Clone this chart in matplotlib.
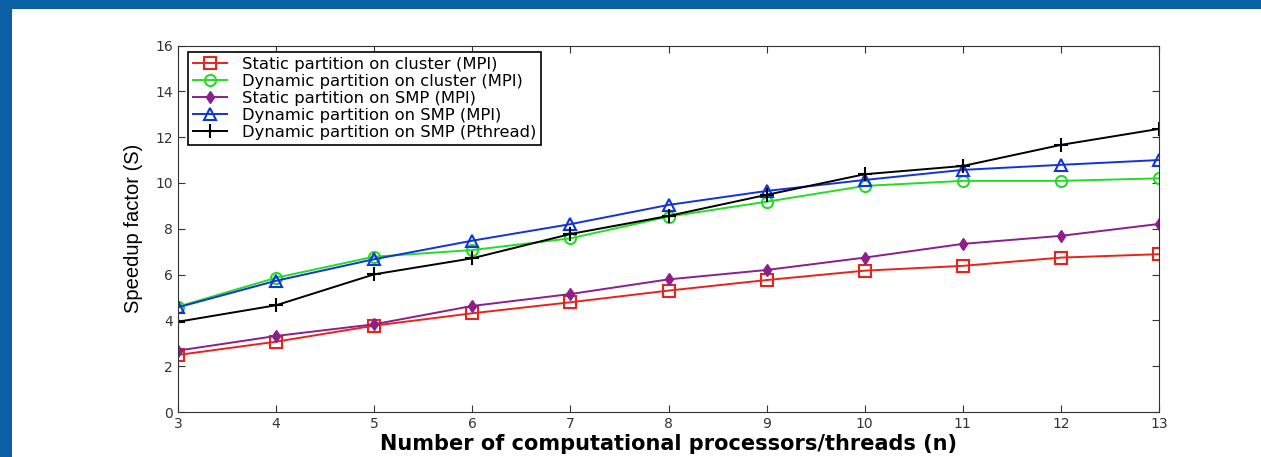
import matplotlib
matplotlib.use("Agg")
import matplotlib.pyplot as plt
from matplotlib.patches import Rectangle

plt.rcParams['font.family'] = ['Liberation Sans', 'DejaVu Sans']

procs = [3, 4, 5, 6, 7, 8, 9, 10, 11, 12, 13]
static_cluster = [2.49, 3.07, 3.77, 4.31, 4.79, 5.30, 5.76, 6.17, 6.38, 6.74, 6.89]
dynamic_cluster = [4.60, 5.86, 6.78, 7.07, 7.58, 8.53, 9.18, 9.87, 10.09, 10.09, 10.20]
static_smp = [2.68, 3.32, 3.83, 4.63, 5.15, 5.79, 6.20, 6.74, 7.34, 7.69, 8.21]
dynamic_smp = [4.57, 5.73, 6.67, 7.48, 8.20, 9.04, 9.65, 10.13, 10.57, 10.79, 11.00]
dynamic_pthread = [3.94, 4.66, 6.01, 6.71, 7.77, 8.56, 9.48, 10.38, 10.74, 11.66, 12.36]

labels = ["Static partition on cluster (MPI)",
          "Dynamic partition on cluster (MPI)",
          "Static partition on SMP (MPI)",
          "Dynamic partition on SMP (MPI)",
          "Dynamic partition on SMP (Pthread)"]

W, H = 1261, 457
fig = plt.figure(figsize=(W / 100, H / 100), dpi=100)
fig.patch.set_facecolor('#0b5fa5')
# white slide panel behind the plot
fig.add_artist(Rectangle((12 / W, 0), 1 - 12 / W, (H - 9) / H,
                         transform=fig.transFigure, facecolor='white',
                         edgecolor='none', zorder=-10))

ax = fig.add_axes([178 / W, (H - 412) / H, (1159 - 178) / W, (412 - 45.5) / H])
ax.set_zorder(5)

ax.plot(procs, static_cluster, color='#e8231c', marker='s', ms=8, mfc='none', mew=1.5, lw=1.4, label=labels[0])
ax.plot(procs, dynamic_cluster, color='#22dd22', marker='o', ms=8, mfc='none', mew=1.5, lw=1.4, label=labels[1])
ax.plot(procs, static_smp, color='#8b1f8b', marker='d', ms=6, lw=1.4, label=labels[2])
ax.plot(procs, dynamic_smp, color='#1133dd', marker='^', ms=8, mfc='none', mew=1.5, lw=1.4, label=labels[3])
ax.plot(procs, dynamic_pthread, color='black', marker='+', ms=10, mew=1.5, lw=1.4, label=labels[4])

ax.set_xlim(3, 13)
ax.set_ylim(0, 16)
ax.set_xticks(procs)
ax.set_yticks(range(0, 17, 2))
ax.tick_params(direction='in', top=True, right=True, length=5, labelsize=10,
               labelcolor='#333333', color='#333333')
for lab in ax.get_xticklabels() + ax.get_yticklabels():
    lab.set_family('DejaVu Sans')
for sp in ax.spines.values():
    sp.set_color('#333333')

ax.set_xlabel("Number of computational processors/threads (n)", fontsize=15,
              fontweight='bold', family='DejaVu Sans', labelpad=2)
ax.set_ylabel("Speedup factor (S)", fontsize=14.5, labelpad=9)

leg = ax.legend(loc='upper left', bbox_to_anchor=(0.0102, 0.982), borderaxespad=0,
                prop={'family': 'DejaVu Sans', 'size': 11.8}, fancybox=False,
                framealpha=1, edgecolor='black', handlelength=2.1,
                labelspacing=0.12, borderpad=0.3, handletextpad=0.9)
leg.get_frame().set_linewidth(1.2)

fig.savefig("out.png", dpi=100, facecolor=fig.get_facecolor())
